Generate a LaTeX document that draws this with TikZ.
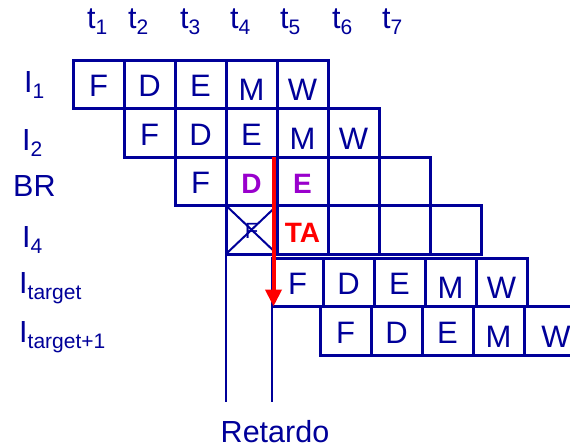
\documentclass[tikz,border=0pt]{standalone}
\usepackage{fontspec}
\setmainfont{Liberation Sans}
\usepackage{tikz}
\usetikzlibrary{arrows.meta, positioning}
\definecolor{navy}{RGB}{0,0,153}
\definecolor{stall}{RGB}{153,0,204}
\definecolor{flush}{RGB}{255,0,0}
\newcommand\idx[1]{\raisebox{-6pt}{\fontsize{21}{25}\selectfont #1}}
\newcommand\low[1]{\raisebox{-4pt}{#1}}
\newcommand\hz[1]{\textcolor{stall}{\fontsize{28}{34}\selectfont\textbf{#1}}}

\begin{document}
\begin{tikzpicture}[x=1pt, y=-1pt,
  cell/.style={rectangle, draw=navy, line width=3pt, minimum width=51pt, minimum height=48.5pt, inner sep=0pt, outer sep=0pt, anchor=north west, text=navy, font=\fontsize{31}{37}\selectfont, text height=25pt, text depth=0pt},
  lbl/.style={text=navy, font=\fontsize{30.5}{36}\selectfont, inner sep=0pt, anchor=base west},
  guide/.style={draw=navy, line width=2pt},
  jump/.style={draw=flush, line width=4pt, -{Triangle[width=16pt, length=17pt]}}
]
  \useasboundingbox (0,0) rectangle (570,447);
  \clip (0,0) rectangle (570,447);

  % clock cycles
  \foreach \x [count=\k] in {87,128,180,230,280,332,382}
    \node[lbl] (t\k) at (\x,28) {t\idx{\k}};

  % instructions
  \node[lbl] (lab1) at (24,92)  {I\idx{1}};
  \node[lbl] (lab2) at (22,150) {I\idx{2}};
  \node[lbl] (lab3) at (13,196) {BR};
  \node[lbl] (lab4) at (22,247) {I\idx{4}};
  \node[lbl] (lab5) at (19,293) {I\idx{target}};
  \node[lbl] (lab6) at (19,342) {I\idx{target+1}};

  % pipeline rows
  \foreach \l [count=\i] in {F,D,E,\low{M},\low{W}}
    \node[cell] (i1c\i) at ({73+51*(\i-1)},60) {\l};
  \foreach \l [count=\i] in {F,D,E,\low{M},\low{W}}
    \node[cell] (i2c\i) at ({124+51*(\i-1)},108.5) {\l};
  \foreach \l [count=\i] in {F,\hz{D},\hz{E},{},{}}
    \node[cell] (brc\i) at ({175+51*(\i-1)},157) {\l};
  \foreach \l [count=\i] in {{\fontsize{22}{26}\selectfont\raisebox{4pt}{F}},{\textcolor{flush}{\fontsize{28}{33}\selectfont\textbf{TA}}},{},{},{}}
    \node[cell] (i4c\i) at ({226+51*(\i-1)},205.5) {\l};
  \foreach \l [count=\i] in {F,D,E,\low{M},\low{W}}
    \node[cell] (tgc\i) at ({272+51*(\i-1)},258) {\l};
  \foreach \l [count=\i] in {F,D,E,\low{M},\low{\hspace*{13pt}W}}
    \node[cell] (tnc\i) at ({320+51*(\i-1)},306.5) {\l};

  % squashed fetch
  \draw[navy, line width=2pt] (i4c1.north west) -- (i4c1.south east)
    (i4c1.north east) -- (i4c1.south west);

  % delay
  \coordinate (lowend) at (0,402);
  \draw[guide] (i4c1.south west) -- (i4c1.south west |- lowend);
  \draw[guide] (tgc1.north west) -- (tgc1.north west |- lowend);
  \coordinate (brtop) at ([xshift=-3.5pt]brc2.north east);
  \draw[jump] (brtop) -- (brtop |- tgc1.south);
  \node[lbl, anchor=base] (delay) at (275,442) {Retardo};
\end{tikzpicture}
\end{document}
